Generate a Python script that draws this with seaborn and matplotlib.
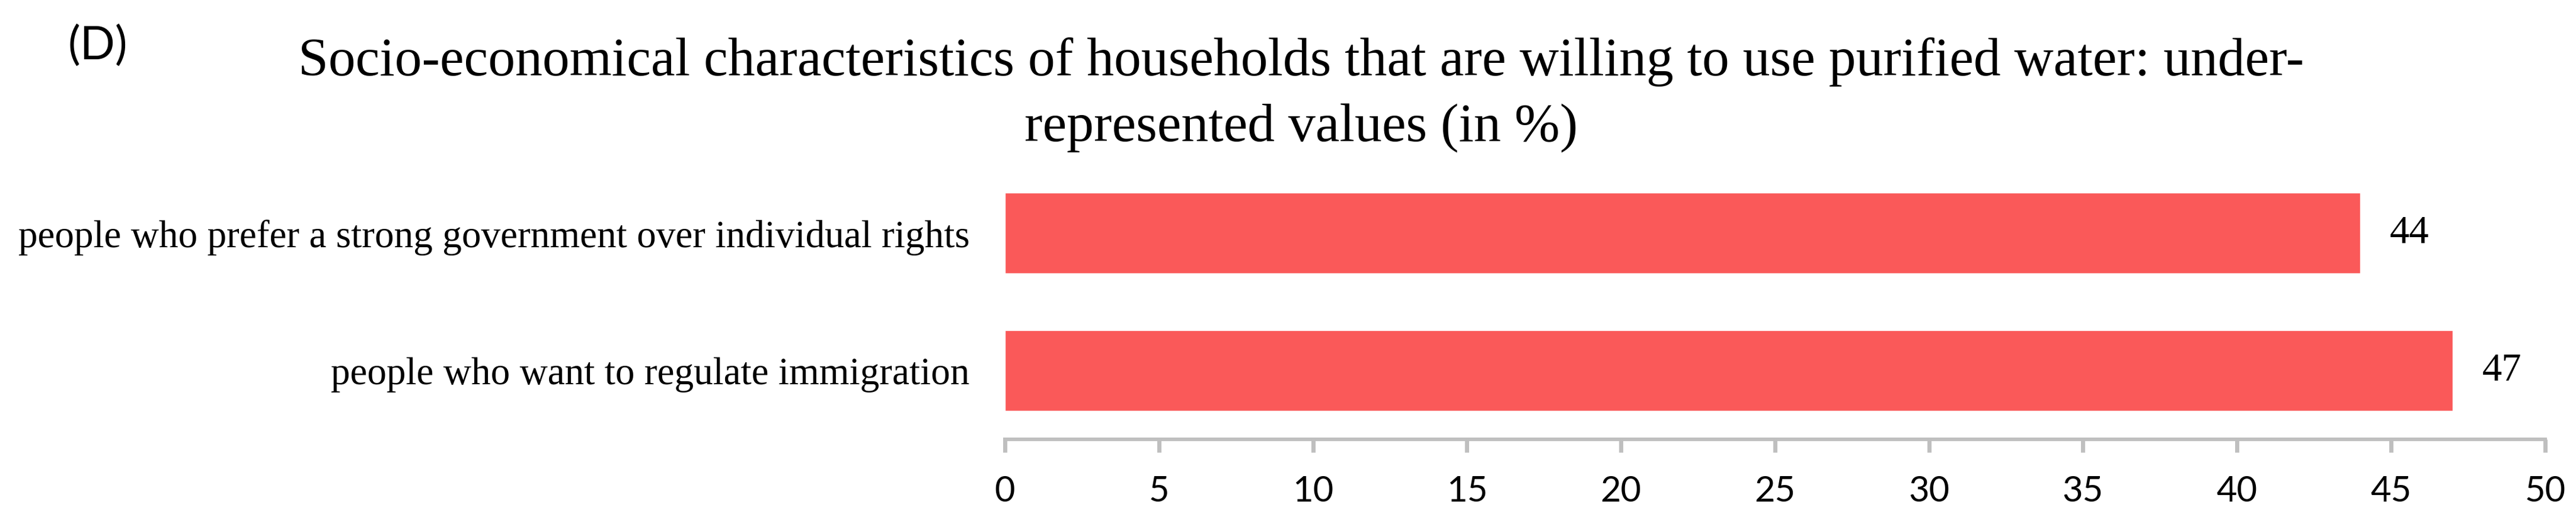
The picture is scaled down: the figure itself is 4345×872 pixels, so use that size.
import matplotlib
matplotlib.use('Agg')
import matplotlib.pyplot as plt
from matplotlib.font_manager import FontProperties
import seaborn as sns
import pandas as pd

# chart data
categories = ['people who prefer a strong government over individual rights',
              'people who want to regulate immigration']
values = [44, 47]
xticks = [0, 5, 10, 15, 20, 25, 30, 35, 40, 45, 50]
title_lines = ['Socio-economical characteristics of households that are willing to use purified water: under-',
               'represented values (in %)']
panel_label = '(D)'

sns.set_theme(style='white')
serif = ['Liberation Serif', 'DejaVu Serif']
sans = ['Lato', 'DejaVu Sans']
plt.rcParams['font.family'] = serif

df = pd.DataFrame({'group': categories, 'pct': values})

fig = plt.figure(figsize=(43.45, 8.72), dpi=100)
ax = fig.add_axes([0.3901, 0.150, 0.5979, 0.532])

sns.barplot(data=df, x='pct', y='group', orient='h', color='#FA5959',
            saturation=1, width=0.585, errorbar=None, ax=ax)

ax.set_xlim(0, 50)
ax.set_ylim(1.5, -0.5)
ax.set_xticks(xticks)
ax.set_xticklabels([str(t) for t in xticks], family=sans)
ax.set_yticks(range(len(categories)))
ax.set_yticklabels(categories, family=serif)
ax.set_xlabel('')
ax.set_ylabel('')

for side in ['top', 'right', 'left']:
    ax.spines[side].set_visible(False)
ax.spines['bottom'].set_color('#BFBFBF')
ax.spines['bottom'].set_linewidth(4.3)

ax.tick_params(axis='x', direction='out', length=16, width=5, color='#BFBFBF',
               labelcolor='black', labelsize=43, pad=28, bottom=True)
ax.tick_params(axis='y', length=0, labelsize=47, pad=43, labelcolor='black')

# value labels at the bar ends (serif like the rest of the text)
val_font = FontProperties(family='Liberation Serif', size=48)
for i, v in enumerate(values):
    ax.annotate(str(v), xy=(v, i), xytext=(36, 0), textcoords='offset points',
                ha='left', va='center', fontproperties=val_font, color='black')

# title in two lines, centered over the figure
fig.text(0.505, 0.8544, title_lines[0], ha='center', va='baseline', fontsize=66,
         family=serif, color='black')
fig.text(0.505, 0.7271, title_lines[1], ha='center', va='baseline', fontsize=66,
         family=serif, color='black')

fig.text(0.038, 0.9106, panel_label, ha='center', va='center', fontsize=56,
         family=sans, color='black')

fig.savefig('out.png', dpi=100, facecolor='white')
